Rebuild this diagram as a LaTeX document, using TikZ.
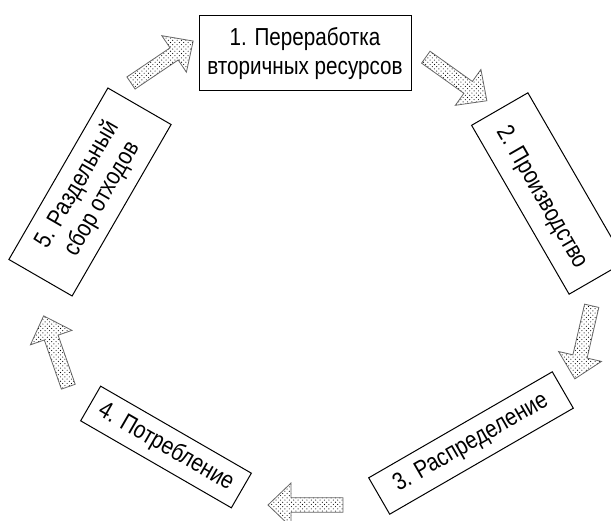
\documentclass[tikz,border=0pt]{standalone}
\usepackage{fontspec}
\setmainfont{Liberation Sans}[FakeStretch=0.84]
\usetikzlibrary{patterns.meta,calc}
\tikzdeclarepattern{
  name=mydots,
  type=uncolored,
  bottom left={(-.1pt,-.1pt)},
  top right={(4.5pt,4.5pt)},
  tile size={(4.4pt,4.4pt)},
  code={
    \fill (1.1pt,1.1pt) circle (0.55pt);
    \fill (3.3pt,3.3pt) circle (0.55pt);
  }
}
\tikzset{
  box/.style={draw=black, line width=1pt, inner sep=0pt, fill=white},
  txt/.style={font=\fontsize{24.6}{28.4}\selectfont, align=center, inner sep=0pt},
  blockarrow/.style={draw=black!60, line width=0.8pt, pattern=mydots, pattern color=black},
}
\newcommand\blockarr[2]{%
  \begin{scope}[shift={(#1)},rotate=#2]
    \draw[blockarrow] (0,-7.3) -- (52,-7.3) -- (52,-22) -- (75,0) -- (52,22) -- (52,7.3) -- (0,7.3) -- cycle;
  \end{scope}}
\begin{document}
\begin{tikzpicture}[x=1pt,y=-1pt]
  \useasboundingbox (0,0) rectangle (611,521);
  \clip (0,0) rectangle (611,521);
  % boxes
  \node[box, txt, minimum width=212, minimum height=75] (b1) at (305,53.5)
    {1. Переработка\\вторичных ресурсов};
  \node[box, rotate=-60, minimum width=195, minimum height=65] (b2) at (548.5,193.5) {};
  \node[txt, rotate=-60] (t2) at ($(b2.center)!8pt!(b2.south)$) {2. Производство};
  \node[box, txt, rotate=30, minimum width=212, minimum height=42] (b3) at (471,443)
    {3. Распределение};
  \node[box, txt, rotate=-30, minimum width=174, minimum height=40] (b4) at (166,447)
    {4. Потребление};
  \node[box, txt, rotate=60, minimum width=198, minimum height=73] (b5) at (90,192)
    {5. Раздельный\\сбор отходов};
  % arrow tails
  \coordinate (a1) at (131,83);
  \coordinate (a2) at (425.8,57.2);
  \coordinate (a3) at (591.7,305.8);
  \coordinate (a4) at (343,505);
  \coordinate (a5) at (68.3,386.7);
  \blockarr{a1}{34}
  \blockarr{a2}{-35.5}
  \blockarr{a3}{-103}
  \blockarr{a4}{180}
  \blockarr{a5}{109.2}
\end{tikzpicture}
\end{document}
